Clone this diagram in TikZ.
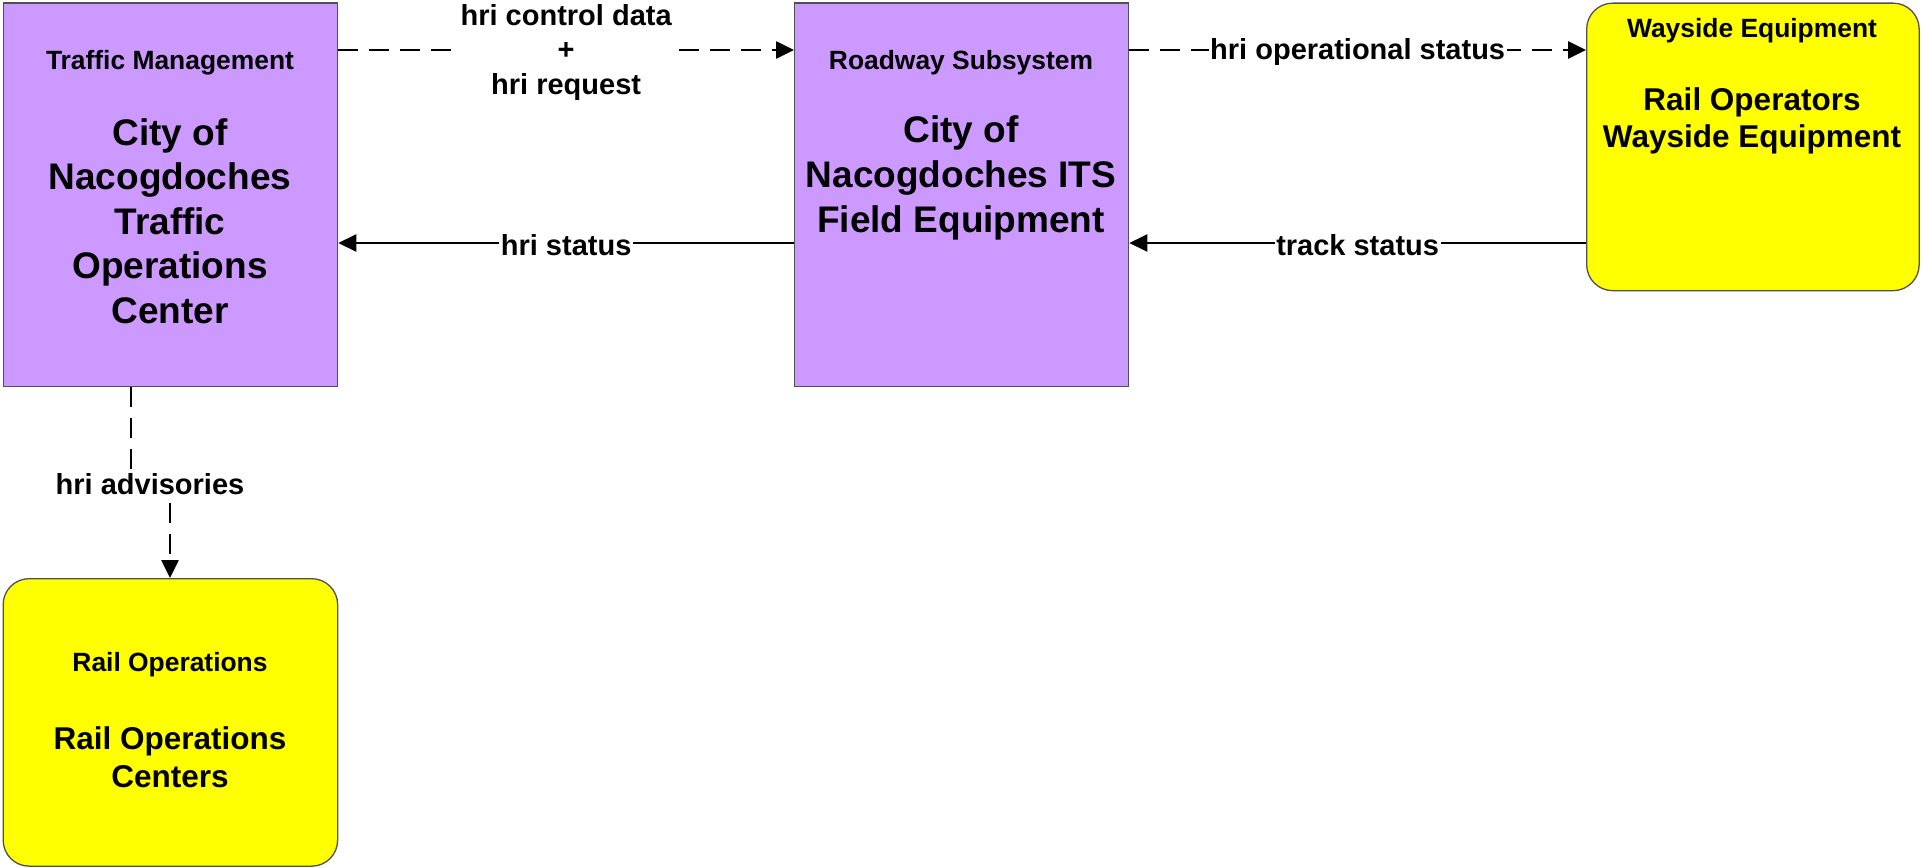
\documentclass[tikz,border=0pt]{standalone}
\usepackage{fontspec}
\setmainfont{Liberation Sans}
\usetikzlibrary{arrows.meta}
\definecolor{purp}{HTML}{CC99FF}
\definecolor{yel}{HTML}{FFFF00}
\definecolor{edge}{HTML}{505050}
\begin{document}
\begin{tikzpicture}[x=1pt,y=-1pt,
  box/.style={draw=edge,line width=1.3pt,anchor=north west,inner sep=0pt},
  pbox/.style={box,fill=purp},
  ybox/.style={box,fill=yel,rounded corners=26pt},
  ttl/.style={font=\bfseries\fontsize{26.4}{31}\selectfont,align=center,inner sep=0pt},
  bigp/.style={font=\bfseries\fontsize{37}{44.6}\selectfont,align=center,inner sep=0pt},
  bigy/.style={font=\bfseries\fontsize{31.5}{37.5}\selectfont,align=center,inner sep=0pt},
  lbl/.style={font=\bfseries\fontsize{29}{34.5}\selectfont,align=center,fill=white,inner sep=1.5pt,yshift=-2.5pt},
  flow/.style={line width=2.6pt,-{Triangle[length=18pt,width=17pt]}},
  flowd/.style={flow,dash pattern=on 20pt off 11pt}]
\path[use as bounding box] (0,0) rectangle (1921,867);
% boxes
\node[pbox,minimum width=334.5pt,minimum height=383.5pt] (tm) at (2.5,2.5) {};
\node[pbox,minimum width=334pt,minimum height=383.5pt] (rs) at (794,2.5) {};
\node[ybox,minimum width=332.5pt,minimum height=287.5pt] (ws) at (1586,2.5) {};
\node[ybox,minimum width=334.5pt,minimum height=287.5pt] (ro) at (2.5,578) {};
% texts
\node[ttl] (tmt) at (170,62.5) {Traffic Management};
\node[bigp] (tmb) at (170,221) {City of\\Nacogdoches\\Traffic\\Operations\\Center};
\node[ttl] (rst) at (961,62.5) {Roadway Subsystem};
\node[bigp] (rsb) at (961,178) {City of\\Nacogdoches ITS\\Field Equipment};
\node[ttl] (wst) at (1752,30.5) {Wayside Equipment};
\node[bigy] (wsb) at (1752,121) {Rail Operators\\Wayside Equipment};
\node[ttl] (rot) at (170,665) {Rail Operations};
\node[bigy] (rob) at (170,757) {Rail Operations\\Centers};
% connectors
\draw[flowd] ([yshift=-47.5pt]tm.north east) -- node[lbl] (l1) {hri control data\\+\\hri request} ([yshift=-47.5pt]rs.north west);
\draw[flow] ([yshift=-240.5pt]rs.north west) -- node[lbl] (l2) {hri status} ([yshift=-240.5pt]tm.north east);
\draw[flowd] ([yshift=-47.5pt]rs.north east) -- node[lbl] (l3) {hri operational status} ([yshift=-47.5pt]ws.north west);
\draw[flow] ([yshift=-240.5pt]ws.north west) -- node[lbl] (l4) {track status} ([yshift=-240.5pt]rs.north east);
\coordinate (ad) at (150,482);
\draw[flowd] ([xshift=128.5pt]tm.south west) |- (ad) -| ([xshift=167.5pt]ro.north west);
\node[lbl] (l5) at (ad) {hri advisories};
\end{tikzpicture}
\end{document}
